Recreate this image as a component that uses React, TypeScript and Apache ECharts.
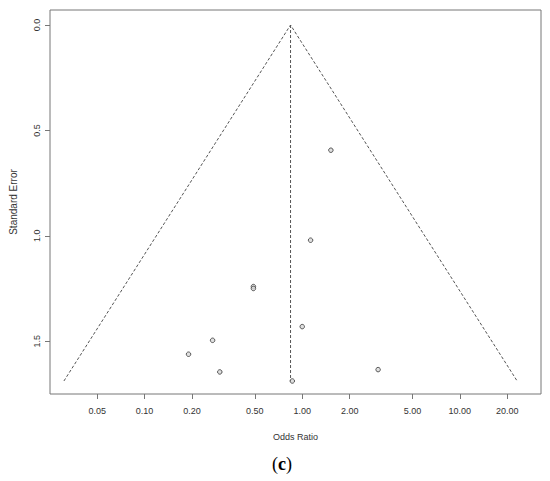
import React, { useEffect, useRef } from "react";
import * as echarts from "echarts";

// Study odds ratios and standard errors
const studyOR = [1.52, 1.13, 0.49, 0.49, 1.0, 0.27, 0.19, 3.03, 0.30, 0.865];
const studySE = [0.594, 1.021, 1.241, 1.250, 1.431, 1.496, 1.562, 1.635, 1.646, 1.689];

// Pooled estimate and funnel extent
const pooledOR = 0.843;
const funnelSEMax = 1.689;

// Tick labels
const xTickLabels = ["0.05", "0.10", "0.20", "0.50", "1.00", "2.00", "5.00", "10.00", "20.00"];
const yTickValues = [0, 0.5, 1.0, 1.5];

const LOG10E = Math.LOG10E;

export default function App() {
  const ref = useRef<HTMLDivElement>(null);
  useEffect(() => {
    if (!ref.current) return;
    document.body.style.margin = "0";
    const chart = echarts.init(ref.current, null, { renderer: "svg" });
    const l10 = (v: number) => Math.log10(v);
    const pooledLn = Math.log(pooledOR);
    const lowLn = pooledLn - 1.96 * funnelSEMax;
    const highLn = pooledLn + 1.96 * funnelSEMax;
    const funnel = [
      [lowLn * LOG10E, funnelSEMax],
      [pooledLn * LOG10E, 0],
      [highLn * LOG10E, funnelSEMax],
    ];
    const vline = [
      [pooledLn * LOG10E, 0],
      [pooledLn * LOG10E, funnelSEMax],
    ];
    const pts = studyOR.map((o, i) => [l10(o), studySE[i]]);
    const xTickVals = xTickLabels.map((s) => l10(parseFloat(s)));
    const labelMap: Record<string, string> = {};
    xTickVals.forEach((v, i) => (labelMap[v.toFixed(6)] = xTickLabels[i]));
    const font = "Liberation Sans, Arial, sans-serif";
    const dash = { color: "#555", width: 1, type: [3, 2] as any };
    chart.setOption({
      animation: false,
      backgroundColor: "#fff",
      grid: {
        left: 44,
        right: 9,
        top: 10,
        bottom: 87,
        show: true,
        borderColor: "#777",
        borderWidth: 1,
        containLabel: false,
      },
      xAxis: {
        type: "value",
        min: -1.6002,
        max: 1.5149,
        name: "Odds Ratio",
        nameLocation: "middle",
        nameGap: 38,
        nameTextStyle: { fontFamily: font, fontSize: 9, color: "#333" },
        axisLine: { show: false, onZero: false },
        splitLine: { show: false },
        axisTick: {
          show: true,
          customValues: xTickVals,
          length: 5,
          lineStyle: { color: "#777" },
        },
        axisLabel: {
          customValues: xTickVals,
          margin: 12,
          fontFamily: font,
          fontSize: 9,
          color: "#333",
          formatter: (v: number) => labelMap[v.toFixed(6)] ?? Math.pow(10, v).toFixed(2),
        },
      },
      yAxis: {
        type: "value",
        inverse: true,
        min: -0.0712,
        max: 1.7507,
        name: "Standard Error",
        nameLocation: "middle",
        nameGap: 32,
        nameRotate: 90,
        nameTextStyle: { fontFamily: font, fontSize: 10, color: "#333" },
        axisLine: { show: false, onZero: false },
        splitLine: { show: false },
        axisTick: {
          show: true,
          customValues: yTickValues,
          length: 5,
          lineStyle: { color: "#777" },
        },
        axisLabel: {
          customValues: yTickValues,
          rotate: 90,
          margin: 9,
          fontFamily: font,
          fontSize: 9,
          color: "#333",
          formatter: (v: number) => v.toFixed(1),
        },
      },
      series: [
        {
          type: "line",
          data: funnel,
          symbol: "none",
          lineStyle: dash,
          silent: true,
          z: 2,
        },
        {
          type: "line",
          data: vline,
          symbol: "none",
          lineStyle: dash,
          silent: true,
          z: 2,
        },
        {
          type: "scatter",
          data: pts,
          symbol: "circle",
          symbolSize: 4.5,
          itemStyle: { color: "#d8d8d8", borderColor: "#333", borderWidth: 1 },
          z: 3,
        },
      ],
      graphic: [
        {
          type: "text",
          left: 272,
          top: 455,
          style: {
            text: "{a|(}{b|c}{a|)}",
            rich: {
              a: { fontFamily: "Liberation Serif, serif", fontSize: 18, fill: "#000" },
              b: { fontFamily: "Liberation Serif, serif", fontSize: 18, fontWeight: "bold", fill: "#000" },
            },
          },
        },
      ],
    });
    return () => chart.dispose();
  }, []);
  return <div ref={ref} style={{ width: 550, height: 481 }} />;
}
